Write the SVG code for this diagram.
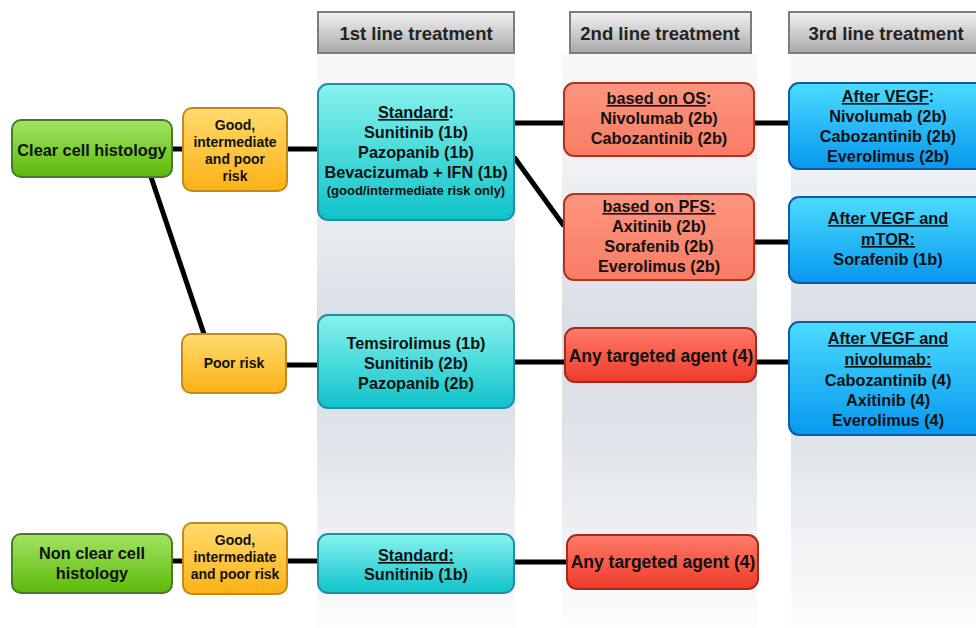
<svg xmlns="http://www.w3.org/2000/svg" width="976" height="628" viewBox="0 0 976 628">
<defs>
<linearGradient id="gStrip" x1="0" y1="0" x2="0" y2="1">
<stop offset="0" stop-color="#f7f8fa"/>
<stop offset="0.25" stop-color="#eceff2"/>
<stop offset="0.5" stop-color="#d7dce3"/>
<stop offset="0.7" stop-color="#e2e6eb"/>
<stop offset="1" stop-color="#fdfdfe"/>
</linearGradient>
<linearGradient id="gHead" x1="0" y1="0" x2="0" y2="1">
<stop offset="0" stop-color="#f2f2f2"/>
<stop offset="1" stop-color="#a9a9a9"/>
</linearGradient>
<linearGradient id="gGreen" x1="0" y1="0" x2="0" y2="1">
<stop offset="0" stop-color="#a2e463"/>
<stop offset="1" stop-color="#5bba0a"/>
</linearGradient>
<linearGradient id="gOrange" x1="0" y1="0" x2="0" y2="1">
<stop offset="0" stop-color="#ffdb6e"/>
<stop offset="1" stop-color="#fcb116"/>
</linearGradient>
<linearGradient id="gCyan" x1="0" y1="0" x2="0" y2="1">
<stop offset="0" stop-color="#88f2ed"/>
<stop offset="1" stop-color="#0fc3ca"/>
</linearGradient>
<linearGradient id="gSalmon" x1="0" y1="0" x2="0" y2="1">
<stop offset="0" stop-color="#fb957f"/>
<stop offset="1" stop-color="#f97c65"/>
</linearGradient>
<linearGradient id="gRed" x1="0" y1="0" x2="0" y2="1">
<stop offset="0" stop-color="#ff7b69"/>
<stop offset="1" stop-color="#ef3a2b"/>
</linearGradient>
<linearGradient id="gBlue" x1="0" y1="0" x2="0" y2="1">
<stop offset="0" stop-color="#4adcff"/>
<stop offset="1" stop-color="#0897ef"/>
</linearGradient>
</defs>
<style>
text{font-family:"Liberation Sans",Arial,sans-serif;font-weight:bold;fill:#111;text-anchor:middle}
.h{font-size:18.5px;fill:#222}
.t{font-size:16.3px}
.s{font-size:14px}
.xs{font-size:13px}
.big{font-size:17.5px}
.u{text-decoration:underline}
.strip{fill:url(#gStrip)}
.head{fill:url(#gHead);stroke:#7d7d7d;stroke-width:2}
.green{fill:url(#gGreen);stroke:#4b7a27;stroke-width:2}
.orange{fill:url(#gOrange);stroke:#c38a16;stroke-width:2}
.cyan{fill:url(#gCyan);stroke:#1d8fab;stroke-width:2}
.salmon{fill:url(#gSalmon);stroke:#b3311d;stroke-width:2}
.red{fill:url(#gRed);stroke:#a52a1b;stroke-width:2}
.blue{fill:url(#gBlue);stroke:#0f5aa4;stroke-width:2}
.c{stroke:#000;stroke-width:5;fill:none}
</style>

<g id="columns">
<rect class="strip" x="317" y="54" width="198" height="574"/>
<rect class="strip" x="562" y="54" width="195" height="574"/>
<rect class="strip" x="791" y="54" width="185" height="574"/>
</g>

<g id="headers">
<g id="h1"><rect class="head" x="318" y="12" width="196" height="41"/><text class="h" x="416" y="40">1st line treatment</text></g>
<g id="h2"><rect class="head" x="570" y="12" width="181" height="41"/><text class="h" x="660" y="40">2nd line treatment</text></g>
<g id="h3"><rect class="head" x="789" y="12" width="196" height="41"/><text class="h" x="886" y="40">3rd line treatment</text></g>
</g>

<g id="connectors">
<line class="c" x1="172" y1="149" x2="183" y2="149"/>
<line class="c" x1="287" y1="149" x2="318" y2="149"/>
<line class="c" x1="151" y1="177" x2="204" y2="334"/>
<line class="c" x1="515" y1="123" x2="564" y2="123"/>
<line class="c" x1="514" y1="157" x2="564" y2="226"/>
<line class="c" x1="754" y1="123" x2="789" y2="123"/>
<line class="c" x1="754" y1="242" x2="789" y2="242"/>
<line class="c" x1="286" y1="365" x2="317" y2="365"/>
<line class="c" x1="515" y1="362" x2="565" y2="362"/>
<line class="c" x1="756" y1="362" x2="789" y2="362"/>
<line class="c" x1="172" y1="561" x2="183" y2="561"/>
<line class="c" x1="287" y1="561" x2="317" y2="561"/>
<line class="c" x1="515" y1="562" x2="567" y2="562"/>
</g>

<g id="clear-cell">
<rect class="green" x="12" y="120" width="160" height="57" rx="9"/>
<text class="t" x="92" y="156">Clear cell histology</text>
</g>
<g id="risk-all-1">
<rect class="orange" x="183" y="108" width="104" height="83" rx="9"/>
<text class="s"><tspan x="235" y="130">Good,</tspan><tspan x="235" y="147">intermediate</tspan><tspan x="235" y="164">and poor</tspan><tspan x="235" y="181">risk</tspan></text>
</g>
<g id="poor-risk">
<rect class="orange" x="182" y="334" width="104" height="59" rx="9"/>
<text class="s" x="234" y="368">Poor risk</text>
</g>
<g id="non-clear">
<rect class="green" x="12" y="534" width="160" height="59" rx="9"/>
<text class="t"><tspan x="92" y="559">Non clear cell</tspan><tspan x="92" y="579">histology</tspan></text>
</g>
<g id="risk-all-2">
<rect class="orange" x="183" y="523" width="104" height="71" rx="9"/>
<text class="s"><tspan x="235" y="545">Good,</tspan><tspan x="235" y="562">intermediate</tspan><tspan x="235" y="579">and poor risk</tspan></text>
</g>

<g id="first-standard">
<rect class="cyan" x="318" y="84" width="196" height="136" rx="10"/>
<text class="t"><tspan x="416" y="118"><tspan class="u">Standard</tspan>:</tspan><tspan x="416" y="138">Sunitinib (1b)</tspan><tspan x="416" y="158">Pazopanib (1b)</tspan><tspan x="416" y="178">Bevacizumab + IFN (1b)</tspan></text>
<text class="xs" x="416" y="195">(good/intermediate risk only)</text>
</g>
<g id="first-poor">
<rect class="cyan" x="318" y="315" width="196" height="93" rx="10"/>
<text class="t"><tspan x="416" y="349">Temsirolimus (1b)</tspan><tspan x="416" y="369">Sunitinib (2b)</tspan><tspan x="416" y="389">Pazopanib (2b)</tspan></text>
</g>
<g id="first-nonclear">
<rect class="cyan" x="318" y="534" width="196" height="59" rx="10"/>
<text class="t"><tspan x="416" y="561" class="u">Standard:</tspan><tspan x="416" y="580">Sunitinib (1b)</tspan></text>
</g>

<g id="second-os">
<rect class="salmon" x="564" y="83" width="190" height="73" rx="10"/>
<text class="t"><tspan x="659" y="104"><tspan class="u">based on OS</tspan>:</tspan><tspan x="659" y="124">Nivolumab (2b)</tspan><tspan x="659" y="144">Cabozantinib (2b)</tspan></text>
</g>
<g id="second-pfs">
<rect class="salmon" x="564" y="194" width="190" height="86" rx="10"/>
<text class="t"><tspan x="659" y="212" class="u">based on PFS:</tspan><tspan x="659" y="232">Axitinib (2b)</tspan><tspan x="659" y="252">Sorafenib (2b)</tspan><tspan x="659" y="272">Everolimus (2b)</tspan></text>
</g>
<g id="second-any-1">
<rect class="red" x="565" y="328" width="191" height="54" rx="10"/>
<text class="big" x="661" y="362">Any targeted agent (4)</text>
</g>
<g id="second-any-2">
<rect class="red" x="567" y="535" width="191" height="54" rx="10"/>
<text class="big" x="663" y="568">Any targeted agent (4)</text>
</g>

<g id="third-vegf">
<rect class="blue" x="789" y="83" width="198" height="86" rx="10"/>
<text class="t"><tspan x="888" y="102"><tspan class="u">After VEGF</tspan>:</tspan><tspan x="888" y="122">Nivolumab (2b)</tspan><tspan x="888" y="142">Cabozantinib (2b)</tspan><tspan x="888" y="162">Everolimus (2b)</tspan></text>
</g>
<g id="third-mtor">
<rect class="blue" x="789" y="197" width="198" height="86" rx="10"/>
<text class="t"><tspan x="888" y="224" class="u">After VEGF and</tspan><tspan x="888" y="245" class="u">mTOR:</tspan><tspan x="888" y="265">Sorafenib (1b)</tspan></text>
</g>
<g id="third-nivo">
<rect class="blue" x="789" y="322" width="198" height="113" rx="10"/>
<text class="t"><tspan x="888" y="344" class="u">After VEGF and</tspan><tspan x="888" y="365" class="u">nivolumab:</tspan><tspan x="888" y="386">Cabozantinib (4)</tspan><tspan x="888" y="406">Axitinib (4)</tspan><tspan x="888" y="426">Everolimus (4)</tspan></text>
</g>
</svg>
